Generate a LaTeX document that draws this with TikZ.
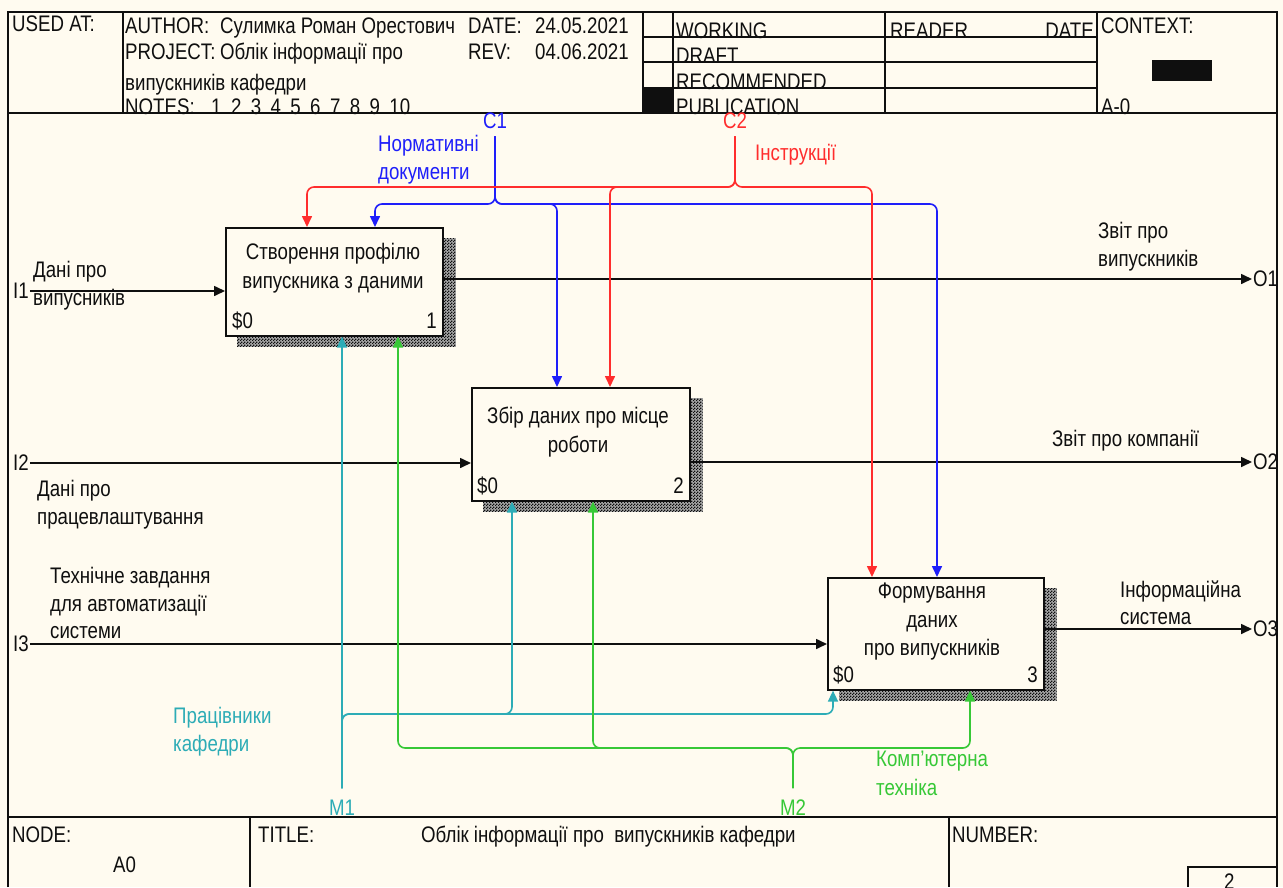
\documentclass[tikz,border=0pt]{standalone}
\usepackage{fontspec}
\setmainfont{Liberation Sans}[FakeStretch=0.83]
\usetikzlibrary{arrows.meta,patterns.meta,backgrounds,calc}

\definecolor{paper}{RGB}{255,251,240}
\definecolor{ink}{RGB}{15,15,15}
\definecolor{ctlblue}{RGB}{30,30,250}
\definecolor{ctlred}{RGB}{255,45,45}
\definecolor{mechteal}{RGB}{45,172,182}
\definecolor{mechgreen}{RGB}{55,200,55}

% checker used for the box shadows
\tikzdeclarepattern{
  name=shadechk,
  type=uncolored,
  bounding box={(0pt,0pt) and (3pt,3pt)},
  tile size={(3pt,3pt)},
  code={
    \fill (0pt,0pt) rectangle (1.5pt,1.5pt);
    \fill (1.5pt,1.5pt) rectangle (3pt,3pt);
  }
}

\begin{document}
\begin{tikzpicture}[x=1pt,y=-1pt,
  font=\fontsize{22.5}{29}\selectfont,
  txt/.style={anchor=base west,inner sep=0pt,text=ink},
  ctxt/.style={anchor=base,inner sep=0pt,text=ink},
  rtxt/.style={anchor=base east,inner sep=0pt,text=ink},
  frameline/.style={draw=ink,line width=1.6pt},
  fnbox/.style={draw=ink,line width=1.6pt,fill=paper,inner sep=0pt,anchor=north west},
  boxtext/.style={align=center,inner sep=0pt,text=ink},
  port/.style={anchor=west,inner sep=1pt,text=ink},
  flow/.style={line width=1.6pt,rounded corners=7pt,-{Triangle[length=11pt,width=10pt]}},
  blackflow/.style={flow,draw=ink},
  blueflow/.style={flow,draw=ctlblue},
  redflow/.style={flow,draw=ctlred},
  tealflow/.style={flow,draw=mechteal},
  greenflow/.style={flow,draw=mechgreen},
]
\useasboundingbox (0,0) rectangle (1283,887);

% ---------- form frame ----------
\draw[frameline] (8,887) -- (8,12) -- (1277,12) -- (1277,887);
\draw[frameline] (8,113) -- (1277,113);
\draw[frameline] (8,817) -- (1277,817);
\foreach \xx in {123,643,673,885,1097}
  \draw[frameline] (\xx,12) -- (\xx,113);
\foreach \yy in {37,62,88}
  \draw[frameline] (643,\yy) -- (1097,\yy);
\fill[ink] (643,88) rectangle (673,113);
\fill[ink] (1152,60) rectangle (1212,81);
\draw[frameline] (250,817) -- (250,887);
\draw[frameline] (949,817) -- (949,887);
\draw[frameline] (1188,887) -- (1188,867) -- (1277,867);

% ---------- header texts ----------
\node[txt] (usedat) at (12,31) {USED AT:};
\node[txt] (authorkey) at (125,33) {AUTHOR:};
\node[txt] (authorval) at (220,33) {Сулимка Роман Орестович};
\node[txt] (datekey) at (468,33) {DATE:};
\node[txt] (dateval) at (535,33) {24.05.2021};
\node[txt] (projkey) at (125,59) {PROJECT:};
\node[txt] (projval) at (220,59) {Облік інформації про};
\node[txt] (revkey) at (468,59) {REV:};
\node[txt] (revval) at (535,59) {04.06.2021};
\node[txt] (projval2) at (125,90) {випускників кафедри};
\node[txt] (noteskey) at (125,114) {NOTES:};
\foreach \n [count=\k] in {1,...,10}
  \node[txt] (note\n) at ({211+(\k-1)*19.8},114) {\n};
\node[txt] (working) at (676,38) {WORKING};
\node[txt] (draft) at (676,63) {DRAFT};
\node[txt] (recom) at (676,89) {RECOMMENDED};
\node[txt] (publ) at (676,114) {PUBLICATION};
\node[txt] (reader) at (890,38) {READER};
\node[rtxt] (rdate) at (1094,38) {DATE};
\node[txt] (context) at (1101,33) {CONTEXT:};
\node[txt] (ctxnode) at (1101,114) {A-0};

% ---------- footer texts ----------
\node[txt] (nodekey) at (12,842) {NODE:};
\node[txt] (nodeval) at (113,872) {A0};
\node[txt] (titlekey) at (258,842) {TITLE:};
\node[txt] (titleval) at (421,842) {Облік інформації про\ \ випускників кафедри};
\node[txt] (numkey) at (952,842) {NUMBER:};
\node[txt] (numval) at (1224,889) {2};

% ---------- activity boxes ----------
\node[fnbox,minimum width=217pt,minimum height=108pt] (b1) at (225,227) {};
\node[fnbox,minimum width=218pt,minimum height=113pt] (b2) at (471,387) {};
\node[fnbox,minimum width=216pt,minimum height=112pt] (b3) at (827,577) {};

\begin{pgfonlayer}{background}
  \fill[paper] (0,0) rectangle (1283,887);
  \foreach \bx in {b1,b2,b3}{
    \fill[black!35]
      ($(\bx.north west)+(12,11)$) rectangle ($(\bx.south east)+(12,10)$);
    \fill[pattern=shadechk,pattern color=ink]
      ($(\bx.north west)+(12,11)$) rectangle ($(\bx.south east)+(12,10)$);
  }
\end{pgfonlayer}

\node[boxtext] (b1t) at (333,268) {Створення профілю\\випускника з даними};
\node[boxtext] (b2t) at (578,432) {Збір даних про місце\\роботи};
\node[boxtext,font=\fontsize{22.5}{28.5}\selectfont] (b3t) at (932,622) {Формування\\даних\\про випускників};
\node[txt] (b1s) at (232,328) {\$0};
\node[rtxt] (b1n) at (437,328) {1};
\node[txt] (b2s) at (477,493) {\$0};
\node[rtxt] (b2n) at (684,493) {2};
\node[txt] (b3s) at (833,682) {\$0};
\node[rtxt] (b3n) at (1038,682) {3};

% ---------- inputs ----------
\node[port] (i1) at (12,291) {I1};
\node[port] (i2) at (12,463) {I2};
\node[port] (i3) at (12,644) {I3};
\draw[blackflow] (i1.east) -- (i1.east -| b1.west);
\draw[blackflow] (i2.east) -- (i2.east -| b2.west);
\draw[blackflow] (i3.east) -- (i3.east -| b3.west);
\node[txt] (i1a) at (33,277) {Дані про};
\node[txt] (i1b) at (33,305) {випусників};
\node[txt] (i2a) at (37,496) {Дані про};
\node[txt] (i2b) at (37,524) {працевлаштування};
\node[txt] (i3a) at (50,583) {Технічне завдання};
\node[txt] (i3b) at (50,611) {для автоматизації};
\node[txt] (i3c) at (50,638) {системи};

% ---------- outputs ----------
\node[port] (o1) at (1252,279) {O1};
\node[port] (o2) at (1252,462) {O2};
\node[port] (o3) at (1252,629) {O3};
\draw[blackflow] (o1.west -| b1.east) -- (o1.west);
\draw[blackflow] (o2.west -| b2.east) -- (o2.west);
\draw[blackflow] (o3.west -| b3.east) -- (o3.west);
\node[txt] (o1a) at (1098,238) {Звіт про};
\node[txt] (o1b) at (1098,266) {випускників};
\node[txt] (o2a) at (1052,446) {Звіт про компанії};
\node[txt] (o3a) at (1120,597) {Інформаційна};
\node[txt] (o3b) at (1120,624) {система};

% ---------- controls ----------
\node[ctxt,text=ctlblue] (c1) at (495,128) {C1};
\coordinate (c1fork) at (495,204);
\draw[blueflow,shorten <=8pt] (c1.south) -- (c1fork) -| ($(b1.north west)+(150,0)$);
\draw[blueflow,shorten <=8pt] (c1.south) -- (c1fork) -| ($(b2.north west)+(86,0)$);
\draw[blueflow,shorten <=8pt] (c1.south) -- (c1fork) -| ($(b3.north west)+(110,0)$);
\node[txt,text=ctlblue] (c1a) at (378,151) {Нормативні};
\node[txt,text=ctlblue] (c1b) at (378,179) {документи};

\node[ctxt,text=ctlred] (c2) at (735,128) {C2};
\coordinate (c2fork) at (735,187);
\draw[redflow,shorten <=8pt] (c2.south) -- (c2fork) -| ($(b1.north west)+(82,0)$);
\draw[redflow,shorten <=8pt] (c2.south) -- (c2fork) -| ($(b2.north west)+(139,0)$);
\draw[redflow,shorten <=8pt] (c2.south) -- (c2fork) -| ($(b3.north west)+(45,0)$);
\node[txt,text=ctlred] (c2a) at (755,160) {Інструкції};

% ---------- mechanisms ----------
\node[ctxt,text=mechteal] (m1) at (342,815) {M1};
\coordinate (m1fork) at (342,714);
\draw[tealflow,shorten <=11pt] (m1.north) -- ($(b1.south west)+(117,0)$);
\draw[tealflow,shorten <=11pt] (m1.north) -- (m1fork) -| ($(b2.south west)+(41,0)$);
\draw[tealflow,shorten <=11pt] (m1.north) -- (m1fork) -| ($(b3.south west)+(6,0)$);
\node[txt,text=mechteal] (m1a) at (173,723) {Працівники};
\node[txt,text=mechteal] (m1b) at (173,751) {кафедри};

\node[ctxt,text=mechgreen] (m2) at (793,815) {M2};
\coordinate (m2fork) at (793,748);
\draw[greenflow,shorten <=11pt] (m2.north) -- (m2fork) -| ($(b1.south west)+(173,0)$);
\draw[greenflow,shorten <=11pt] (m2.north) -- (m2fork) -| ($(b2.south west)+(122,0)$);
\draw[greenflow,shorten <=11pt] (m2.north) -- (m2fork) -| ($(b3.south west)+(143,0)$);
\node[txt,text=mechgreen] (m2a) at (876,766) {Комп'ютерна};
\node[txt,text=mechgreen] (m2b) at (876,795) {техніка};
\end{tikzpicture}
\end{document}
